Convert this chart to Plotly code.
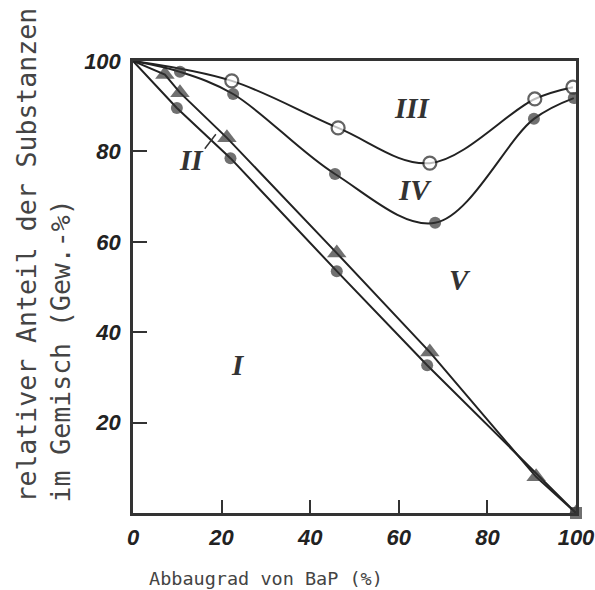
import plotly.graph_objects as go

# Curve I (filled circles, straight)
x_I = [0, 9.9, 22, 46, 66.4, 100]
y_I = [100, 89.6, 78.5, 53.5, 32.7, 0]
# Curve II (triangles, straight)
x_II = [0, 7.2, 10.6, 21.2, 46, 67, 91, 100]
y_II = [100, 97, 93, 83, 57.5, 35.6, 8, 0]
# Curve III (open circles, smooth)
x_III = [0, 22.3, 46.3, 67, 90.7, 99.3]
y_III = [100, 95.6, 85.2, 77.4, 91.6, 94.2]
# Curve IV (filled circles, smooth)
x_IV = [0, 10.6, 22.6, 45.6, 68.2, 90.5, 99.5]
y_IV = [100, 97.6, 92.7, 75, 64.2, 87.2, 91.8]

region_labels = ["I", "II", "III", "IV", "V"]
region_x = [23.7, 13.2, 63, 63.7, 73.8]
region_y = [32.7, 78, 89.6, 71.5, 51.5]

x_ticks = [0, 20, 40, 60, 80, 100]
y_ticks = [20, 40, 60, 80, 100]

L, T, R, B = 133, 61, 576, 513  # target plot box in window pixels
W, H = 595, 590

fig = go.Figure()

def msizes(n, s):
    return [0] + [s] * (n - 1)

fig.add_trace(go.Scatter(
    x=x_I, y=y_I, mode="lines+markers",
    line=dict(color="#222", width=2),
    marker=dict(symbol=["circle"] * (len(x_I) - 1) + ["square"],
                size=msizes(len(x_I), 12), color="#333",
                line=dict(width=0)),
    cliponaxis=False, showlegend=False))
fig.add_trace(go.Scatter(
    x=x_II, y=y_II, mode="lines+markers",
    line=dict(color="#222", width=2),
    marker=dict(symbol="triangle-up", size=msizes(len(x_II), 17), color="#333",
                line=dict(width=0)),
    showlegend=False))
fig.add_trace(go.Scatter(
    x=x_III, y=y_III, mode="lines+markers",
    line=dict(color="#222", width=2, shape="spline", smoothing=1.0),
    marker=dict(symbol="circle", size=msizes(len(x_III), 13), color="white",
                line=dict(width=2.2, color="#222")),
    showlegend=False))
fig.add_trace(go.Scatter(
    x=x_IV, y=y_IV, mode="lines+markers",
    line=dict(color="#222", width=2, shape="spline", smoothing=1.0),
    marker=dict(symbol="circle", size=msizes(len(x_IV), 12), color="#333",
                line=dict(width=0)),
    showlegend=False))

label_font = dict(family="Liberation Serif", size=29, color="#333",
                  style="italic", weight="bold")
for t, xx, yy in zip(region_labels, region_x, region_y):
    fig.add_annotation(x=xx, y=yy, text=t, showarrow=False, font=label_font)

# leader line for II
fig.add_shape(type="line", x0=16.2, y0=80.6, x1=18.7, y1=83.8,
              line=dict(color="#333", width=1.5))

tick_font = dict(family="Liberation Sans", size=22, color="#222",
                 style="italic", weight="bold")

fig.update_xaxes(range=[0, 100], tickvals=x_ticks, ticks="inside", ticklen=13,
                 tickwidth=2, tickcolor="#333", showline=True, linewidth=2.5,
                 linecolor="#333", mirror=True, showgrid=False, zeroline=False,
                 automargin=False,
                 tickfont=tick_font, ticklabelstandoff=3, ticklabeloverflow="allow")
fig.update_yaxes(range=[0, 100], tickvals=y_ticks, ticks="inside", ticklen=14,
                 tickwidth=2, tickcolor="#333", showline=True, linewidth=2.5,
                 linecolor="#333", mirror=True, showgrid=False, zeroline=False,
                 automargin=False,
                 tickfont=tick_font, ticklabelstandoff=5, ticklabeloverflow="allow")

pw, ph = R - L, B - T
fig.add_annotation(xref="paper", yref="paper", x=(266 - L) / pw, y=-(578 - B) / ph,
                   xanchor="center", yanchor="middle",
                   text="Abbaugrad von BaP (%)", showarrow=False,
                   font=dict(family="DejaVu Sans Mono", size=18.5, color="#444"))
fig.add_annotation(xref="paper", yref="paper", x=-(L - 43) / pw, y=(B - 505) / ph,
                   xanchor="center", yanchor="bottom", textangle=-90, align="left",
                   text="relativer Anteil der Substanzen<br>im Gemisch (Gew.-%)",
                   showarrow=False,
                   font=dict(family="DejaVu Sans Mono", size=26.5, color="#444"))

fig.update_layout(width=W, height=H,
                  margin=dict(l=L, r=W - R, t=T, b=H - B),
                  paper_bgcolor="white", plot_bgcolor="white")

fig.write_html("out.html", config={"displayModeBar": False},
               post_script="document.body.style.margin='0';"
                           "document.body.style.overflow='hidden';"
                           "document.documentElement.style.overflow='hidden';")
